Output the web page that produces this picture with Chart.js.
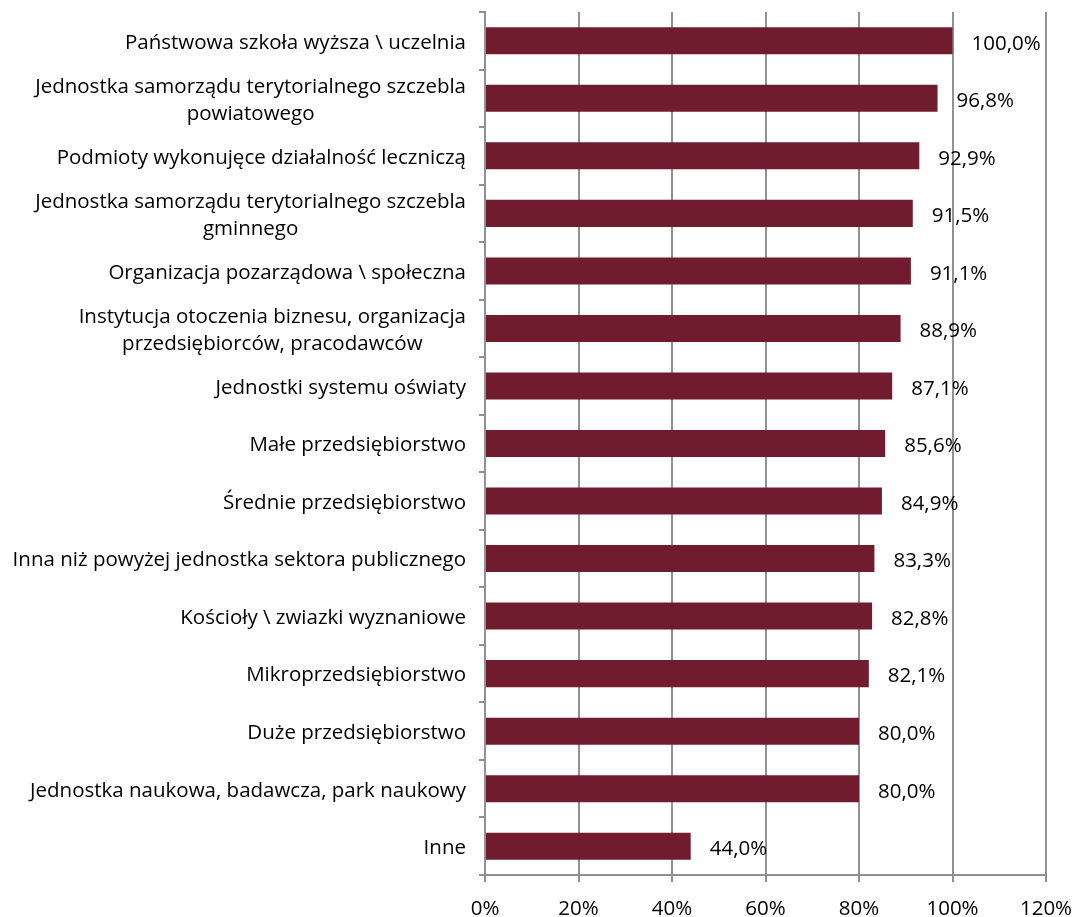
<!DOCTYPE html>
<html>
<head>
<meta charset="utf-8">
<script src="https://cdn.jsdelivr.net/npm/chart.js@4/dist/chart.umd.min.js"></script>
<style>
html,body{margin:0;padding:0;background:#fff;}
#wrap{width:1078px;height:917px;position:relative;}
</style>
</head>
<body>
<div id="wrap"><canvas id="c" width="1078" height="917"></canvas></div>
<script>
const categories = [
  ["Państwowa szkoła wyższa \\ uczelnia"],
  ["Jednostka samorządu terytorialnego szczebla", "powiatowego"],
  ["Podmioty wykonujęce działalność leczniczą"],
  ["Jednostka samorządu terytorialnego szczebla", "gminnego"],
  ["Organizacja pozarządowa \\ społeczna"],
  ["Instytucja otoczenia biznesu, organizacja", "przedsiębiorców, pracodawców"],
  ["Jednostki systemu oświaty"],
  ["Małe przedsiębiorstwo"],
  ["Średnie przedsiębiorstwo"],
  ["Inna niż powyżej jednostka sektora publicznego"],
  ["Kościoły \\ zwiazki wyznaniowe"],
  ["Mikroprzedsiębiorstwo"],
  ["Duże przedsiębiorstwo"],
  ["Jednostka naukowa, badawcza, park naukowy"],
  ["Inne"]
];
const values = [100.0, 96.8, 92.9, 91.5, 91.1, 88.9, 87.1, 85.6, 84.9, 83.3, 82.8, 82.1, 80.0, 80.0, 44.0];
const xTickValues = [0, 20, 40, 60, 80, 100, 120];

const FONT = '"Open Sans", "Noto Sans", sans-serif';
const FS = 20.5;
const LINE = '#919191';

const yLabelPlugin = {
  id: 'yLabels',
  afterDraw(chart) {
    const ctx = chart.ctx;
    const ys = chart.scales.y;
    const right = chart.chartArea.left - 19;
    ctx.save();
    ctx.font = FS + 'px ' + FONT;
    ctx.fillStyle = '#000';
    ctx.textBaseline = 'middle';
    ctx.textAlign = 'center';
    const lh = 27;
    categories.forEach((lines, i) => {
      const cy = ys.getPixelForTick(i) + 2;
      const w = Math.max(...lines.map(l => ctx.measureText(l).width));
      const cx = right - w / 2;
      const y0 = cy - (lines.length - 1) * lh / 2;
      lines.forEach((l, j) => ctx.fillText(l, cx, y0 + j * lh));
    });
    ctx.restore();
  }
};

const valueLabelPlugin = {
  id: 'valueLabels',
  afterDatasetsDraw(chart) {
    const ctx = chart.ctx;
    const meta = chart.getDatasetMeta(0);
    ctx.save();
    ctx.font = FS + 'px ' + FONT;
    ctx.fillStyle = '#000';
    ctx.textBaseline = 'middle';
    ctx.textAlign = 'left';
    meta.data.forEach((bar, i) => {
      const txt = values[i].toFixed(1).replace('.', ',') + '%';
      ctx.fillText(txt, bar.x + 19, bar.y + 3);
    });
    ctx.restore();
  }
};

const xTickLabelPlugin = {
  id: 'xLabels',
  afterDraw(chart) {
    const ctx = chart.ctx;
    const xs = chart.scales.x;
    ctx.save();
    ctx.font = FS + 'px ' + FONT;
    ctx.fillStyle = '#000';
    ctx.textBaseline = 'middle';
    ctx.textAlign = 'center';
    xTickValues.forEach(v => {
      ctx.fillText(v + '%', xs.getPixelForValue(v), chart.chartArea.bottom + 34);
    });
    ctx.restore();
  }
};

new Chart(document.getElementById('c'), {
  type: 'bar',
  data: {
    labels: categories.map(c => c.join(' ')),
    datasets: [{
      data: values,
      backgroundColor: '#701c2e',
      borderWidth: 0,
      categoryPercentage: 1,
      barPercentage: 0.47
    }]
  },
  options: {
    indexAxis: 'y',
    responsive: false,
    animation: false,
    events: [],
    layout: { padding: { top: 12, right: 32, bottom: 0, left: 0 } },
    plugins: { legend: { display: false }, tooltip: { enabled: false } },
    scales: {
      x: {
        min: 0, max: 120,
        afterBuildTicks(scale) { scale.ticks = xTickValues.map(v => ({ value: v })); },
        afterFit(scale) { scale.height = 42; },
        ticks: { display: false },
        grid: { color: LINE, lineWidth: 2, tickLength: 7, drawTicks: true },
        border: { display: true, color: LINE, width: 2 }
      },
      y: {
        afterFit(scale) { scale.width = 485; },
        ticks: { display: false },
        grid: { drawOnChartArea: false, drawTicks: true, tickLength: 6, color: LINE, lineWidth: 2, offset: true },
        border: { display: true, color: LINE, width: 2 }
      }
    }
  },
  plugins: [yLabelPlugin, valueLabelPlugin, xTickLabelPlugin]
});
</script>
</body>
</html>
